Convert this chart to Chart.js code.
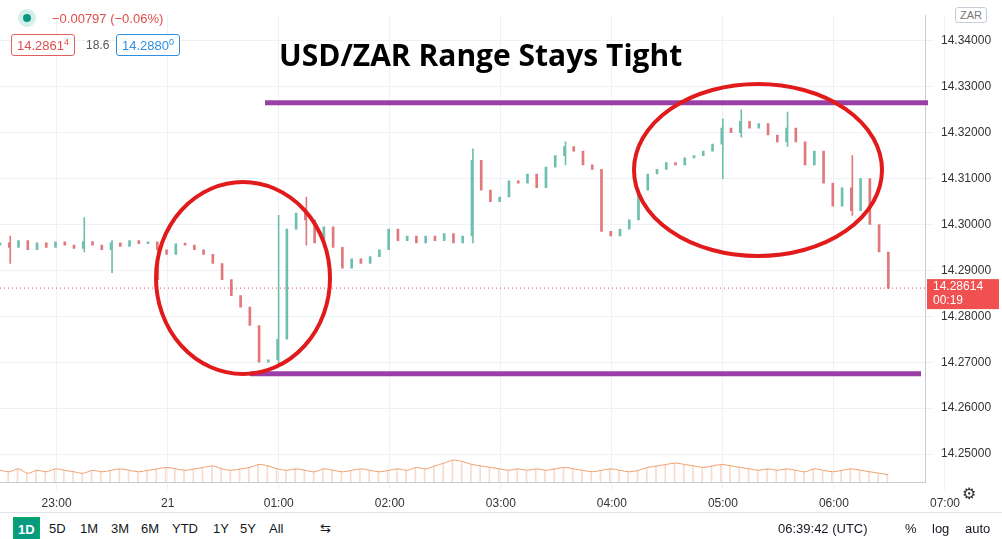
<!DOCTYPE html>
<html><head><meta charset="utf-8">
<script src="https://cdn.jsdelivr.net/npm/chart.js@4/dist/chart.umd.min.js"></script>
<style>
body{margin:0;background:#fff;font-family:"Liberation Sans",Arial,sans-serif;width:1002px;height:539px;overflow:hidden;position:relative}
#wrap{position:absolute;left:0;top:0;width:1002px;height:508px}
.hdr{position:absolute;font-size:13px}
.box{position:absolute;border:1px solid;border-radius:3px;padding:2px 5px;font-size:13px;background:#fff}
#bar{position:absolute;left:0;top:512px;width:1002px;height:27px;border-top:1px solid #e0e3eb;font-size:13px;color:#131722}
#bar span{position:absolute;top:8px}
</style></head><body>
<div id="wrap"><canvas id="c"></canvas></div>
<div class="hdr" style="left:18px;top:9px;width:18px;height:18px;border-radius:9px;background:#d4efe9"></div>
<div class="hdr" style="left:23px;top:14px;width:8px;height:8px;border-radius:4px;background:#089981"></div>
<div class="hdr" style="left:52px;top:11px;color:#e04e4e">−0.00797 (−0.06%)</div>
<div class="box" style="left:11px;top:34px;border-color:#e06060;color:#e04e4e">14.2861<sup style="font-size:9px">4</sup></div>
<div class="hdr" style="left:86px;top:38px;color:#555;font-size:12px">18.6</div>
<div class="box" style="left:116px;top:34px;border-color:#2f8fe0;color:#2f8fe0">14.2880<sup style="font-size:9px">0</sup></div>
<div class="box" style="left:955px;top:7px;border-color:#c8ccd6;color:#777;font-size:11px;padding:1px 4px">ZAR</div>
<div class="hdr" style="left:962px;top:484px;font-size:16px;color:#333">⚙</div>
<div id="bar">
<span style="left:13px;top:4px;background:#089981;color:#fff;padding:3px 3px;font-weight:bold;border:2px solid #0a6">1D</span>
<span style="left:49px">5D</span><span style="left:80px">1M</span><span style="left:111px">3M</span>
<span style="left:141px">6M</span><span style="left:172px">YTD</span><span style="left:213px">1Y</span>
<span style="left:240px">5Y</span><span style="left:269px">All</span><span style="left:320px">⇆</span>
<span style="left:778px">06:39:42 (UTC)</span><span style="left:905px">%</span>
<span style="left:932px">log</span><span style="left:965px">auto</span>
</div>
<script>
// 5-minute closes, starting 22:29
const startHour = 22.49;
const closes = [14.2960,14.2950,14.2965,14.2945,14.2960,14.2950,14.2962,14.2955,14.2948,14.2963,
14.2955,14.2945,14.2960,14.2952,14.2965,14.2958,14.2962,14.2945,14.2935,14.2958,
14.2955,14.2945,14.2935,14.2915,14.2880,14.2845,14.2820,14.2780,14.2700,14.2705,
14.2750,14.2990,14.3025,14.3010,14.2960,14.2995,14.2950,14.2905,14.2925,14.2915,
14.2930,14.2945,14.2990,14.2965,14.2975,14.2960,14.2975,14.2965,14.2980,14.2960,
14.2975,14.3140,14.3075,14.3050,14.3060,14.3095,14.3090,14.3110,14.3080,14.3125,
14.3150,14.3170,14.3160,14.3130,14.3120,14.2985,14.2975,14.2990,14.3010,14.3075,
14.3110,14.3120,14.3135,14.3130,14.3145,14.3150,14.3160,14.3175,14.3210,14.3200,
14.3225,14.3210,14.3220,14.3195,14.3180,14.3210,14.3180,14.3130,14.3160,14.3090,
14.3040,14.3080,14.3030,14.3100,14.3000,14.2940,14.2861];
const firstOpen = 14.2955;
// notable wicks: [index, low, high]
const wicks = [[1,14.2915,14.2975],[9,14.2940,14.3015],[12,14.2895,14.2965],[17,14.2880,14.2950],
[30,14.2690,14.3020],[33,14.2955,14.3060],[51,14.2960,14.3165],[61,14.3130,14.3180],
[78,14.3100,14.3230],[80,14.3190,14.3250],[85,14.3170,14.3245],[92,14.3020,14.3150]];
const volume = [8,7,9,6,8,7,9,8,7,6,8,7,8,9,8,7,8,9,10,9,8,9,10,11,9,8,9,10,12,11,9,8,9,8,7,9,8,7,8,9,
8,7,8,9,8,10,9,11,13,15,14,12,11,10,9,8,9,8,9,8,9,10,9,8,7,8,9,8,7,8,10,11,12,13,12,11,10,11,12,11,
10,9,8,9,8,9,8,7,9,8,7,8,9,8,7,6,5];
const yTicks = [14.25,14.26,14.27,14.28,14.29,14.30,14.31,14.32,14.33,14.34];
const hourTicks = [23,24,25,26,27,28,29,30,31];
const hourLabels = ["23:00","21","01:00","02:00","03:00","04:00","05:00","06:00","07:00"];
const lastPrice = 14.28614;
const topLine = 14.3265, bottomLine = 14.2675;

const xs = closes.map((c,i)=>startHour+i*5/60);
const opens = closes.map((c,i)=>i===0?firstOpen:closes[i-1]);
const up = closes.map((c,i)=>c>=opens[i]);
const green='#6fbfae', red='#e0787c';

const overlay = {
  id:'overlay',
  afterDatasetsDraw(ch){
    const {ctx,scales:{x,y}} = ch;
    ctx.save();
    const py = y.getPixelForValue(lastPrice);
    ctx.strokeStyle='#e04e4e'; ctx.setLineDash([1,3]); ctx.lineWidth=1;
    ctx.beginPath(); ctx.moveTo(0,py); ctx.lineTo(x.right,py); ctx.stroke(); ctx.setLineDash([]);
    ctx.fillStyle='#f05050'; ctx.fillRect(x.right+2,py-9,72,30);
    ctx.fillStyle='#fff'; ctx.font='12px "Liberation Sans"'; ctx.textBaseline='middle';
    ctx.fillText('14.28614',x.right+8,py-1); ctx.fillText('00:19',x.right+8,py+13);
    ctx.strokeStyle='#9b3fa8'; ctx.lineWidth=5;
    let t=y.getPixelForValue(topLine), b=y.getPixelForValue(bottomLine);
    ctx.beginPath(); ctx.moveTo(265,t); ctx.lineTo(928,t); ctx.stroke();
    ctx.beginPath(); ctx.moveTo(250,b); ctx.lineTo(921,b); ctx.stroke();
    ctx.strokeStyle='#e11b1b'; ctx.lineWidth=4;
    ctx.beginPath(); ctx.ellipse(243,278,87,96,0,0,Math.PI*2); ctx.stroke();
    ctx.beginPath(); ctx.ellipse(758,170,124,86,0,0,Math.PI*2); ctx.stroke();
    ctx.fillStyle='#000'; ctx.font='bold 30px "Open Sans"'; ctx.textBaseline='middle';
    ctx.fillText('USD/ZAR Range Stays Tight',279,57);
    ctx.restore();
  }
};

new Chart(document.getElementById('c'),{
  type:'bar',
  data:{datasets:[
    {data:xs.map((v,i)=>({x:v,y:[opens[i],closes[i]]})),backgroundColor:up.map(u=>u?green:red),
     barThickness:2,minBarLength:2,order:1},
    {data:wicks.map(w=>({x:xs[w[0]],y:[w[1],w[2]]})),backgroundColor:wicks.map(w=>up[w[0]]?green:red),
     barThickness:1,order:2},
    {type:'line',data:xs.map((v,i)=>({x:v,y:volume[i]})),yAxisID:'v',borderColor:'#f0a070',
     borderWidth:1,pointRadius:0,tension:0.3},
    {data:xs.map((v,i)=>({x:v,y:volume[i]})),yAxisID:'v',backgroundColor:'#f6dccd',barThickness:1}
  ]},
  options:{
    animation:false,responsive:true,maintainAspectRatio:false,
    layout:{padding:0},
    plugins:{legend:{display:false},tooltip:{enabled:false}},
    scales:{
      x:{type:'linear',offset:false,min:startHour,max:30.82,grid:{color:'#eef1f5',offset:false},border:{color:'#c8ccd6'},
         afterBuildTicks:s=>{s.ticks=hourTicks.map(v=>({value:v}));},
         afterFit:s=>{s.height=26;},
         ticks:{color:'#333',font:{size:12,family:'Liberation Sans'},maxRotation:0,padding:6,
           callback:(v)=>hourLabels[hourTicks.indexOf(v)]}},
      y:{position:'right',min:14.2439,max:14.3456,grid:{color:'#eef1f5'},border:{color:'#c8ccd6'},
         afterBuildTicks:s=>{s.ticks=yTicks.map(v=>({value:v}));},
         afterFit:s=>{s.width=77;},
         ticks:{color:'#333',font:{size:12,family:'Liberation Sans'},padding:8,callback:v=>v.toFixed(5)}},
      v:{axis:'y',type:'linear',display:false,min:0,max:320}
    }
  },
  plugins:[overlay]
});
</script>
</body></html>
